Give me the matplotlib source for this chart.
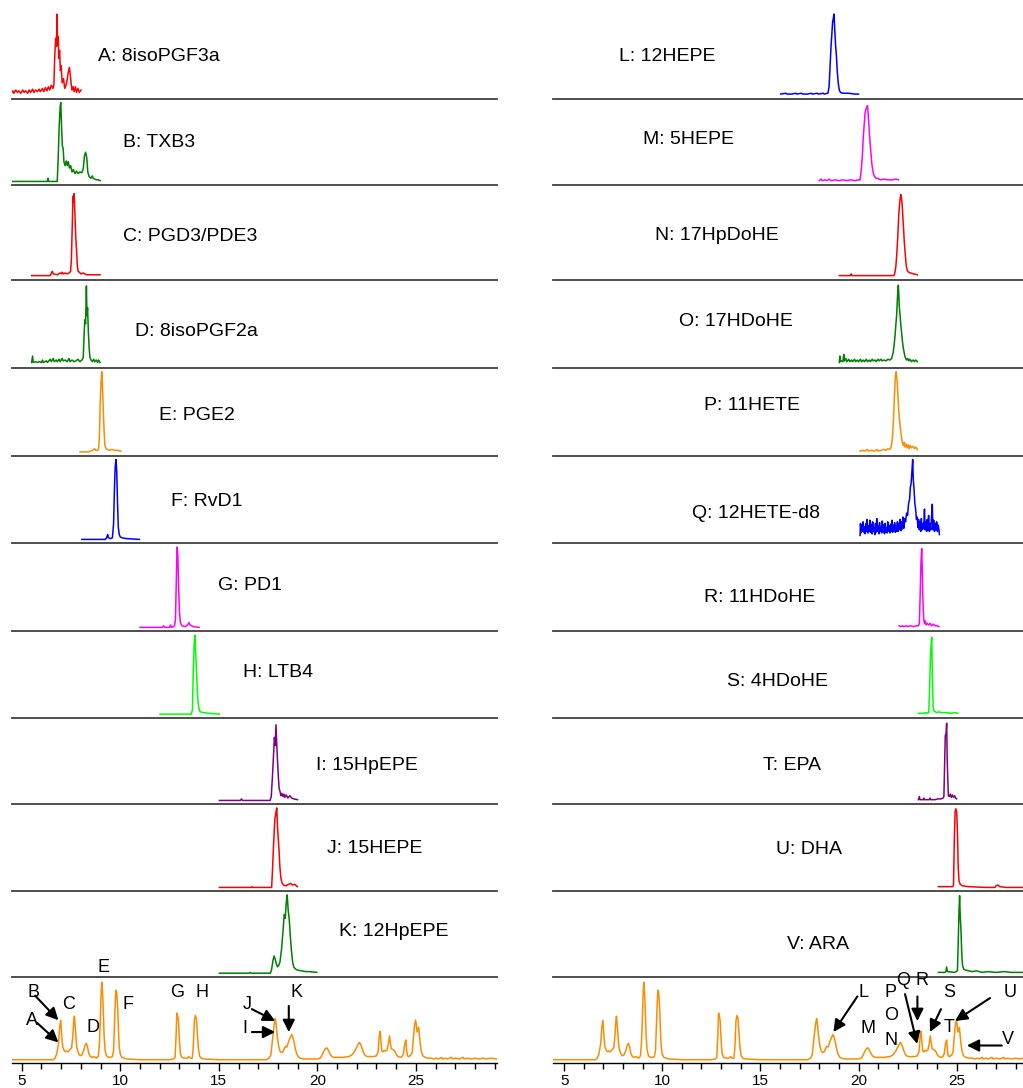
import matplotlib
matplotlib.use("Agg")
import matplotlib.pyplot as plt
import matplotlib.transforms as mtransforms
from matplotlib.ticker import MultipleLocator

plt.rcParams['font.family'] = ['Liberation Sans', 'DejaVu Sans']

# ---- traces: (retention time [min], relative intensity) ----
trace_A = [(4.46,0.02),(4.55,0.05),(4.6,0.02),(4.7,0.06),(4.78,0.03),(4.85,0.05),(4.95,0.02),(5.05,0.06),
           (5.12,0.03),(5.2,0.05),(5.3,0.02),(5.38,0.06),(5.45,0.03),(5.55,0.07),(5.62,0.03),(5.7,0.06),
           (5.8,0.04),(5.88,0.07),(5.95,0.04),(6.05,0.08),(6.12,0.04),(6.2,0.09),(6.28,0.05),(6.35,0.1),
           (6.42,0.06),(6.5,0.12),(6.58,0.08),(6.63,0.12),(6.67,0.45),(6.72,0.7),(6.76,0.6),(6.79,1.0),
           (6.82,0.62),(6.85,0.72),(6.88,0.45),(6.92,0.55),(6.96,0.3),(7.0,0.36),(7.05,0.15),(7.12,0.2),
           (7.18,0.08),(7.25,0.12),(7.3,0.18),(7.36,0.28),(7.42,0.34),(7.46,0.25),(7.5,0.15),(7.55,0.06),
           (7.6,0.1),(7.66,0.04),(7.72,0.1),(7.78,0.03),(7.85,0.08),(7.92,0.03),(8.01,0.06)]
trace_B = [(4.46,0.0),(6.3,0.0),(6.33,0.04),(6.36,0.0),(6.8,0.0),(6.85,0.3),(6.9,0.7),(6.95,0.95),
           (6.98,1.0),(7.02,0.7),(7.06,0.45),(7.1,0.42),(7.14,0.25),(7.2,0.2),(7.26,0.26),(7.31,0.2),
           (7.36,0.25),(7.42,0.17),(7.48,0.2),(7.55,0.12),(7.62,0.15),(7.7,0.1),(7.78,0.13),(7.86,0.1),
           (7.95,0.12),(8.05,0.11),(8.12,0.16),(8.18,0.32),(8.24,0.37),(8.3,0.3),(8.35,0.12),(8.42,0.06),
           (8.5,0.04),(8.58,0.07),(8.62,0.04),(8.7,0.03),(8.8,0.02),(8.9,0.02),(8.98,0.01)]
trace_C = [(5.5,0.0),(6.45,0.0),(6.5,0.03),(6.55,0.05),(6.6,0.02),(6.8,0.01),(6.95,0.03),(7.0,0.02),
           (7.05,0.04),(7.1,0.02),(7.2,0.03),(7.3,0.02),(7.4,0.03),(7.48,0.05),(7.52,0.2),(7.56,0.55),
           (7.6,0.92),(7.63,0.85),(7.66,0.95),(7.7,0.7),(7.74,0.45),(7.78,0.3),(7.82,0.12),(7.86,0.05),
           (7.92,0.04),(8.0,0.02),(8.1,0.03),(8.3,0.01),(8.6,0.01),(8.97,0.01)]
trace_D = [(5.5,0.02),(5.55,0.1),(5.58,0.02),(5.7,0.03),(5.8,0.02),(5.9,0.03),(6.0,0.02),(6.05,0.05),
           (6.1,0.02),(6.25,0.04),(6.3,0.02),(6.45,0.06),(6.5,0.03),(6.6,0.07),(6.65,0.03),(6.75,0.05),
           (6.8,0.03),(6.9,0.06),(6.95,0.03),(7.05,0.07),(7.1,0.04),(7.2,0.05),(7.3,0.03),(7.4,0.07),
           (7.45,0.03),(7.55,0.05),(7.65,0.03),(7.75,0.04),(7.85,0.06),(7.95,0.03),(8.05,0.05),(8.12,0.08),
           (8.16,0.35),(8.2,0.55),(8.24,0.5),(8.28,0.97),(8.31,0.6),(8.34,0.7),(8.38,0.4),(8.42,0.2),
           (8.46,0.08),(8.52,0.05),(8.58,0.03),(8.65,0.06),(8.7,0.03),(8.78,0.05),(8.85,0.02),(8.9,0.05),
           (8.97,0.02)]
trace_E = [(7.96,0.0),(8.4,0.0),(8.5,0.01),(8.6,0.02),(8.7,0.04),(8.75,0.02),(8.85,0.02),(8.9,0.04),
           (8.94,0.2),(8.98,0.6),(9.02,0.85),(9.06,1.0),(9.1,0.8),(9.14,0.5),(9.18,0.25),(9.22,0.08),
           (9.28,0.04),(9.35,0.03),(9.45,0.02),(9.55,0.03),(9.7,0.02),(9.85,0.02),(10.03,0.01)]
trace_F = [(8.05,0.0),(9.25,0.0),(9.32,0.03),(9.36,0.06),(9.4,0.02),(9.5,0.01),(9.6,0.02),(9.66,0.2),
           (9.7,0.6),(9.74,0.9),(9.78,1.0),(9.82,0.85),(9.86,0.45),(9.9,0.15),(9.95,0.06),(10.0,0.03),
           (10.1,0.02),(10.3,0.01),(10.97,0.0)]
trace_G = [(11.0,0.0),(12.15,0.0),(12.2,0.02),(12.25,0.0),(12.5,0.0),(12.55,0.03),(12.6,0.0),(12.75,0.02),
           (12.8,0.1),(12.84,0.55),(12.88,1.0),(12.92,0.9),(12.96,0.5),(13.0,0.2),(13.05,0.06),(13.12,0.02),
           (13.3,0.01),(13.42,0.03),(13.48,0.06),(13.54,0.03),(13.7,0.01),(14.0,0.0)]
trace_H = [(12.02,0.0),(13.6,0.0),(13.66,0.05),(13.7,0.5),(13.75,0.9),(13.79,1.0),(13.83,0.75),(13.88,0.45),
           (13.93,0.2),(13.98,0.08),(14.05,0.03),(14.2,0.02),(14.5,0.01),(15.03,0.0)]
trace_I = [(15.03,0.0),(16.1,0.0),(16.15,0.02),(16.2,0.0),(17.6,0.0),(17.66,0.05),(17.72,0.3),(17.78,0.6),
           (17.82,0.8),(17.86,0.7),(17.9,0.96),(17.94,0.7),(17.98,0.5),(18.02,0.3),(18.06,0.15),(18.1,0.12),
           (18.15,0.06),(18.2,0.09),(18.25,0.05),(18.3,0.08),(18.35,0.04),(18.42,0.07),(18.5,0.03),(18.6,0.06),
           (18.7,0.03),(18.8,0.02),(18.99,0.01)]
trace_J = [(15.03,0.0),(16.65,0.0),(16.68,0.01),(16.72,0.0),(17.68,0.0),(17.72,0.2),(17.78,0.55),(17.84,0.85),
           (17.9,0.95),(17.94,1.0),(17.98,0.75),(18.02,0.6),(18.06,0.45),(18.1,0.25),(18.15,0.12),(18.2,0.06),
           (18.28,0.03),(18.4,0.02),(18.55,0.04),(18.65,0.05),(18.75,0.03),(18.85,0.04),(18.99,0.01)]
trace_K = [(15.03,0.0),(16.55,0.0),(16.6,0.01),(16.65,0.0),(17.62,0.0),(17.68,0.05),(17.74,0.15),(17.8,0.22),
           (17.86,0.18),(17.92,0.12),(17.98,0.08),(18.04,0.1),(18.1,0.14),(18.18,0.3),(18.26,0.55),(18.32,0.75),
           (18.37,0.7),(18.42,0.9),(18.47,1.0),(18.52,0.8),(18.57,0.7),(18.62,0.5),(18.68,0.3),(18.74,0.15),
           (18.8,0.08),(18.9,0.05),(19.0,0.04),(19.2,0.03),(19.4,0.02),(19.6,0.02),(19.97,0.01)]

trace_L = [(16.04,0.01),(16.3,0.02),(16.35,0.01),(16.6,0.01),(16.8,0.02),(16.85,0.01),(17.1,0.02),(17.15,0.01),
           (17.4,0.01),(17.6,0.02),(17.65,0.01),(17.9,0.02),(17.95,0.01),(18.2,0.02),(18.25,0.01),(18.44,0.02),
           (18.5,0.1),(18.55,0.35),(18.6,0.6),(18.64,0.75),(18.68,0.9),(18.72,0.95),(18.75,1.0),(18.79,0.8),
           (18.83,0.62),(18.87,0.5),(18.92,0.28),(18.97,0.14),(19.02,0.06),(19.08,0.03),(19.2,0.02),(19.5,0.02),
           (19.8,0.01),(20.0,0.01)]
trace_M = [(18.0,0.01),(18.1,0.03),(18.15,0.01),(18.3,0.02),(18.4,0.01),(18.5,0.03),(18.6,0.01),(18.8,0.02),
           (19.0,0.01),(19.2,0.02),(19.4,0.01),(19.6,0.02),(19.8,0.01),(20.0,0.02),(20.08,0.02),(20.14,0.15),
           (20.19,0.3),(20.24,0.55),(20.29,0.72),(20.34,0.88),(20.4,0.93),(20.46,0.96),(20.52,0.75),(20.57,0.55),
           (20.62,0.4),(20.68,0.22),(20.74,0.12),(20.8,0.07),(20.88,0.04),(21.0,0.04),(21.1,0.02),(21.3,0.03),
           (21.5,0.02),(21.7,0.02),(21.9,0.03),(22.03,0.02)]
trace_N = [(19.02,0.0),(19.6,0.0),(19.63,0.02),(19.66,0.0),(21.8,0.0),(21.84,0.02),(21.9,0.1),(21.95,0.25),
           (22.0,0.45),(22.05,0.7),(22.1,0.85),(22.15,0.94),(22.19,0.9),(22.23,0.8),(22.28,0.6),(22.33,0.4),
           (22.38,0.25),(22.43,0.12),(22.48,0.06),(22.55,0.04),(22.65,0.03),(22.8,0.02),(23.0,0.01)]
trace_O = [(19.02,0.02),(19.05,0.1),(19.08,0.03),(19.15,0.04),(19.2,0.03),(19.25,0.12),(19.28,0.04),(19.35,0.07),
           (19.4,0.03),(19.5,0.06),(19.55,0.03),(19.65,0.05),(19.7,0.03),(19.8,0.06),(19.85,0.03),(19.95,0.05),
           (20.0,0.03),(20.1,0.06),(20.15,0.03),(20.25,0.05),(20.3,0.03),(20.4,0.06),(20.45,0.03),(20.55,0.05),
           (20.6,0.03),(20.7,0.06),(20.75,0.04),(20.85,0.05),(20.9,0.03),(21.0,0.06),(21.05,0.04),(21.15,0.06),
           (21.2,0.04),(21.3,0.05),(21.4,0.04),(21.5,0.06),(21.6,0.05),(21.69,0.07),(21.77,0.15),(21.82,0.25),
           (21.86,0.35),(21.9,0.48),(21.94,0.6),(21.99,0.85),(22.03,0.98),(22.08,0.7),(22.12,0.6),(22.15,0.5),
           (22.2,0.38),(22.23,0.3),(22.28,0.2),(22.32,0.15),(22.36,0.1),(22.4,0.07),(22.46,0.05),(22.5,0.07),
           (22.56,0.04),(22.62,0.06),(22.7,0.03),(22.78,0.05),(22.85,0.03),(22.92,0.05),(23.0,0.03)]
trace_P = [(20.08,0.01),(20.2,0.02),(20.3,0.01),(20.45,0.03),(20.5,0.01),(20.65,0.02),(20.8,0.01),(20.95,0.03),
           (21.0,0.01),(21.15,0.02),(21.3,0.03),(21.4,0.02),(21.5,0.04),(21.6,0.03),(21.66,0.06),(21.72,0.15),
           (21.78,0.4),(21.83,0.7),(21.88,0.95),(21.92,1.0),(21.96,0.9),(22.0,0.75),(22.04,0.55),(22.08,0.42),
           (22.13,0.3),(22.18,0.2),(22.23,0.12),(22.28,0.08),(22.32,0.12),(22.37,0.06),(22.42,0.1),(22.47,0.05),
           (22.53,0.09),(22.58,0.04),(22.64,0.08),(22.7,0.05),(22.78,0.07),(22.85,0.04),(22.92,0.06),(23.0,0.03)]
trace_Q = [(20.08,0.05),(20.1,0.2),(20.13,0.08),(20.16,0.18),(20.2,0.1),(20.23,0.22),(20.27,0.09),(20.3,0.16),
           (20.34,0.07),(20.37,0.2),(20.41,0.1),(20.44,0.25),(20.48,0.08),(20.51,0.17),(20.55,0.1),(20.58,0.24),
           (20.62,0.09),(20.65,0.19),(20.69,0.07),(20.72,0.22),(20.76,0.1),(20.79,0.15),(20.83,0.06),(20.86,0.2),
           (20.9,0.09),(20.93,0.26),(20.97,0.1),(21.0,0.17),(21.04,0.07),(21.07,0.21),(21.11,0.1),(21.14,0.16),
           (21.18,0.08),(21.21,0.23),(21.25,0.1),(21.28,0.18),(21.32,0.07),(21.35,0.2),(21.39,0.09),(21.42,0.15),
           (21.46,0.08),(21.49,0.22),(21.53,0.1),(21.56,0.17),(21.6,0.08),(21.63,0.19),(21.67,0.1),(21.7,0.24),
           (21.74,0.09),(21.77,0.18),(21.81,0.1),(21.84,0.21),(21.88,0.09),(21.91,0.17),(21.95,0.1),(21.98,0.22),
           (22.02,0.1),(22.05,0.2),(22.09,0.12),(22.12,0.25),(22.16,0.11),(22.19,0.22),(22.23,0.13),(22.27,0.28),
           (22.31,0.14),(22.35,0.26),(22.4,0.22),(22.45,0.33),(22.5,0.3),(22.55,0.45),(22.6,0.5),(22.64,0.65),
           (22.68,0.7),(22.72,0.85),(22.76,1.0),(22.79,0.75),(22.83,0.62),(22.87,0.45),(22.91,0.38),(22.95,0.25),
           (22.99,0.28),(23.03,0.15),(23.06,0.25),(23.1,0.12),(23.13,0.22),(23.17,0.1),(23.2,0.26),(23.24,0.12),
           (23.28,0.2),(23.32,0.13),(23.36,0.38),(23.39,0.12),(23.43,0.22),(23.47,0.1),(23.5,0.25),(23.54,0.12),
           (23.57,0.3),(23.61,0.1),(23.64,0.2),(23.68,0.12),(23.72,0.28),(23.76,0.44),(23.79,0.12),(23.83,0.24),
           (23.87,0.1),(23.9,0.2),(23.94,0.12),(23.98,0.22),(24.02,0.1),(24.06,0.18),(24.1,0.12),(24.12,0.06)]
trace_R = [(22.07,0.02),(22.15,0.01),(22.25,0.02),(22.3,0.01),(22.45,0.02),(22.5,0.01),(22.65,0.02),(22.8,0.01),
           (22.95,0.02),(23.05,0.02),(23.1,0.05),(23.14,0.4),(23.18,0.8),(23.22,0.98),(23.25,0.7),(23.28,0.35),
           (23.32,0.1),(23.36,0.05),(23.4,0.08),(23.44,0.03),(23.5,0.05),(23.58,0.03),(23.65,0.05),(23.72,0.02),
           (23.8,0.04),(23.9,0.02),(24.0,0.02),(24.1,0.01)]
trace_S = [(23.05,0.01),(23.3,0.01),(23.45,0.02),(23.48,0.01),(23.58,0.02),(23.62,0.3),(23.66,0.7),(23.69,0.85),
           (23.73,0.97),(23.76,0.5),(23.8,0.1),(23.84,0.04),(23.9,0.03),(24.0,0.02),(24.1,0.03),(24.2,0.02),
           (24.35,0.02),(24.5,0.02),(24.7,0.01),(24.9,0.02),(25.06,0.01)]
trace_T = [(23.05,0.01),(23.1,0.05),(23.13,0.01),(23.3,0.01),(23.33,0.03),(23.36,0.01),(23.6,0.01),(23.65,0.03),
           (23.68,0.01),(23.9,0.01),(24.05,0.02),(24.2,0.02),(24.3,0.03),(24.35,0.05),(24.39,0.5),(24.42,0.82),
           (24.46,0.85),(24.49,0.98),(24.52,0.5),(24.55,0.25),(24.58,0.06),(24.63,0.05),(24.68,0.08),(24.73,0.04),
           (24.78,0.07),(24.84,0.04),(24.9,0.06),(24.95,0.03),(25.0,0.02)]
trace_U = [(24.07,0.01),(24.5,0.01),(24.8,0.01),(24.84,0.03),(24.88,0.6),(24.92,0.95),(24.96,0.99),(25.0,0.95),
           (25.04,0.7),(25.08,0.25),(25.12,0.08),(25.18,0.04),(25.3,0.02),(25.6,0.01),(26.5,0.0),(26.95,0.0),
           (27.0,0.02),(27.1,0.03),(27.2,0.01),(27.5,0.0),(28.5,0.0)]
trace_V = [(24.07,0.01),(24.4,0.01),(24.45,0.02),(24.49,0.08),(24.53,0.02),(24.9,0.01),(25.04,0.03),(25.08,0.4),
           (25.12,0.8),(25.15,0.99),(25.18,0.75),(25.22,0.55),(25.26,0.25),(25.3,0.1),(25.36,0.05),(25.45,0.04),
           (25.6,0.03),(25.8,0.02),(26.0,0.03),(26.3,0.01),(26.6,0.02),(27.0,0.01),(27.4,0.02),(27.8,0.01),
           (28.5,0.01)]

# total chromatogram (same in both columns)
tic = [(4.45,0.0),(6.6,0.0),(6.69,0.02),(6.78,0.08),(6.86,0.2),(6.92,0.4),(6.98,0.5),(7.03,0.3),(7.08,0.16),
       (7.15,0.12),(7.22,0.1),(7.28,0.11),(7.35,0.1),(7.45,0.13),(7.53,0.15),(7.59,0.3),(7.64,0.5),(7.67,0.55),
       (7.72,0.4),(7.79,0.16),(7.88,0.08),(7.96,0.05),(8.05,0.06),(8.15,0.12),(8.21,0.18),(8.28,0.21),(8.34,0.16),
       (8.4,0.08),(8.48,0.04),(8.55,0.03),(8.65,0.04),(8.72,0.03),(8.8,0.02),(8.89,0.05),(8.94,0.2),(8.98,0.45),
       (9.02,0.8),(9.06,0.98),(9.1,0.85),(9.14,0.6),(9.18,0.3),(9.23,0.12),(9.3,0.05),(9.4,0.03),(9.5,0.03),
       (9.6,0.04),(9.66,0.12),(9.7,0.4),(9.74,0.7),(9.78,0.88),(9.82,0.85),(9.87,0.65),(9.91,0.35),(9.95,0.16),
       (10.0,0.07),(10.08,0.03),(10.2,0.02),(10.33,0.01),(11.0,0.0),(12.5,0.0),(12.7,0.01),(12.78,0.03),
       (12.83,0.3),(12.87,0.59),(12.91,0.55),(12.95,0.5),(13.0,0.25),(13.05,0.08),(13.12,0.03),(13.25,0.02),
       (13.4,0.02),(13.48,0.04),(13.55,0.02),(13.65,0.02),(13.7,0.15),(13.76,0.5),(13.81,0.56),(13.86,0.52),
       (13.91,0.33),(13.96,0.15),(14.02,0.05),(14.1,0.02),(14.22,0.01),(15.0,0.0),(17.4,0.0),(17.55,0.02),
       (17.64,0.06),(17.7,0.2),(17.77,0.36),(17.83,0.48),(17.87,0.52),(17.92,0.42),(17.97,0.29),(18.03,0.18),
       (18.1,0.11),(18.18,0.09),(18.25,0.1),(18.32,0.14),(18.38,0.17),(18.45,0.16),(18.53,0.22),(18.6,0.27),
       (18.66,0.3),(18.7,0.32),(18.76,0.28),(18.82,0.22),(18.88,0.14),(18.96,0.07),(19.05,0.03),(19.13,0.02),
       (19.3,0.01),(20.0,0.01),(20.14,0.02),(20.22,0.05),(20.31,0.1),(20.4,0.14),(20.48,0.15),(20.56,0.12),
       (20.65,0.07),(20.75,0.04),(20.85,0.03),(21.0,0.03),(21.3,0.03),(21.6,0.04),(21.75,0.06),(21.9,0.11),
       (21.98,0.15),(22.06,0.19),(22.14,0.22),(22.22,0.18),(22.3,0.12),(22.38,0.07),(22.45,0.05),(22.55,0.04),
       (22.7,0.04),(22.85,0.04),(23.0,0.05),(23.08,0.1),(23.14,0.3),(23.19,0.36),(23.23,0.22),(23.27,0.11),
       (23.33,0.1),(23.4,0.12),(23.46,0.11),(23.53,0.12),(23.6,0.2),(23.66,0.3),(23.7,0.22),(23.75,0.14),
       (23.82,0.13),(23.88,0.12),(23.95,0.1),(24.02,0.06),(24.1,0.04),(24.2,0.03),(24.3,0.04),(24.37,0.08),
       (24.43,0.2),(24.49,0.25),(24.53,0.12),(24.57,0.05),(24.65,0.04),(24.75,0.06),(24.82,0.1),(24.88,0.3),
       (24.94,0.45),(24.98,0.5),(25.02,0.45),(25.06,0.35),(25.1,0.38),(25.14,0.41),(25.18,0.3),(25.23,0.18),
       (25.28,0.1),(25.35,0.05),(25.47,0.03),(25.6,0.02),(25.8,0.02),(25.9,0.01),(26.05,0.02),(26.15,0.01),
       (26.3,0.03),(26.35,0.01),(26.5,0.02),(26.6,0.01),(26.8,0.03),(26.85,0.01),(27.0,0.02),(27.2,0.01),
       (27.4,0.03),(27.45,0.01),(27.6,0.02),(27.8,0.01),(28.0,0.02),(28.2,0.01),(28.4,0.02),(28.6,0.01),
       (28.8,0.02),(29.1,0.01)]

left_traces = [trace_A, trace_B, trace_C, trace_D, trace_E, trace_F, trace_G, trace_H, trace_I, trace_J, trace_K]
right_traces = [trace_L, trace_M, trace_N, trace_O, trace_P, trace_Q, trace_R, trace_S, trace_T, trace_U, trace_V]

left_names = ["A: 8isoPGF3a", "B: TXB3", "C: PGD3/PDE3", "D: 8isoPGF2a", "E: PGE2", "F: RvD1",
              "G: PD1", "H: LTB4", "I: 15HpEPE", "J: 15HEPE", "K: 12HpEPE"]
right_names = ["L: 12HEPE", "M: 5HEPE", "N: 17HpDoHE", "O: 17HDoHE", "P: 11HETE", "Q: 12HETE-d8",
               "R: 11HDoHE", "S: 4HDoHE", "T: EPA", "U: DHA", "V: ARA"]

left_colors = ['#ff0000', '#008000', '#ff0000', '#008000', '#ff8c00', '#0000ff', '#ff00ff', '#00ff00',
               '#800080', '#ff0000', '#008000']
right_colors = ['#0000ff', '#ff00ff', '#ff0000', '#008000', '#ff8c00', '#0000ff', '#ff00ff', '#00ff00',
                '#800080', '#ff0000', '#008000']

# label placement (x in minutes, y as fraction of panel height)
left_lab_x = [8.89, 10.13, 10.13, 10.75, 11.98, 12.56, 14.98, 16.25, 19.94, 20.48, 21.12]
left_lab_y = [0.47, 0.49, 0.45, 0.41, 0.45, 0.48, 0.52, 0.52, 0.45, 0.49, 0.53]
right_lab_x = [7.8, 9.04, 9.64, 10.87, 12.13, 11.5, 12.13, 13.32, 15.15, 15.78, 16.38]
right_lab_y = [0.48, 0.53, 0.47, 0.52, 0.57, 0.34, 0.38, 0.42, 0.45, 0.48, 0.38]

# peak letters on the total chromatograms: (letter, x, y) and arrows (tail, tip)
left_letters = [("A", 5.51, 0.50), ("B", 5.59, 0.85), ("C", 7.37, 0.70), ("D", 8.63, 0.41), ("E", 9.14, 1.17),
                ("F", 10.41, 0.70), ("G", 12.87, 0.85), ("H", 14.14, 0.85), ("I", 16.34, 0.39),
                ("J", 16.42, 0.70), ("K", 18.96, 0.85)]
left_arrows = [((5.76, 0.47), (6.86, 0.22)), ((5.68, 0.81), (6.86, 0.50)), ((16.68, 0.35), (17.86, 0.35)),
               ((16.68, 0.64), (17.86, 0.49)), ((18.55, 0.68), (18.55, 0.35))]
right_letters = [("L", 20.25, 0.85), ("M", 20.46, 0.39), ("P", 21.61, 0.85), ("O", 21.66, 0.56),
                 ("N", 21.66, 0.24), ("Q", 22.25, 1.0), ("R", 23.25, 1.0), ("S", 24.61, 0.85),
                 ("T", 24.61, 0.41), ("U", 27.72, 0.85), ("V", 27.6, 0.26)]
right_arrows = [((19.94, 0.80), (18.72, 0.35)), ((22.37, 0.83), (22.99, 0.20)), ((23.0, 0.80), (23.0, 0.49)),
                ((24.2, 0.64), (23.64, 0.35)), ((26.7, 0.78), (24.92, 0.49)), ((27.3, 0.18), (25.52, 0.18))]

W, H = 1023, 1088
row_edges = [10, 98.5, 185, 279.5, 367.7, 455.5, 543, 631, 717.7, 804, 891, 976.7, 1063.3]
cols = [dict(x0=11.7, x1=496.7, xlim=(4.49, 29.1), traces=left_traces, names=left_names,
             colors=left_colors, lx=left_lab_x, ly=left_lab_y, letters=left_letters, arrows=left_arrows),
        dict(x0=553.3, x1=1023, xlim=(4.45, 28.38), traces=right_traces, names=right_names,
             colors=right_colors, lx=right_lab_x, ly=right_lab_y, letters=right_letters, arrows=right_arrows)]
YLIM = (-0.045, 1.05)

fig = plt.figure(figsize=(W / 100, H / 100), dpi=100)

for col in cols:
    for i in range(12):
        yt, yb = row_edges[i], row_edges[i + 1]
        ax = fig.add_axes([col['x0'] / W, 1 - yb / H, (col['x1'] - col['x0']) / W, (yb - yt) / H])
        ax.set_xlim(*col['xlim'])
        ax.set_ylim(*YLIM)
        for s in ['top', 'left', 'right']:
            ax.spines[s].set_visible(False)
        ax.set_yticks([])
        ax.patch.set_alpha(0)
        if i < 11:
            tr = col['traces'][i]
            ax.plot([p[0] for p in tr], [p[1] for p in tr], color=col['colors'][i], lw=1.1)
            ax.spines['bottom'].set_color('#404040')
            ax.spines['bottom'].set_linewidth(1.3)
            ax.set_xticks([])
            trans = mtransforms.blended_transform_factory(ax.transData, ax.transAxes)
            ax.text(col['lx'][i], col['ly'][i], col['names'][i], transform=trans,
                    fontsize=14, ha='left', va='center')
        else:
            ax.plot([p[0] for p in tic], [p[1] for p in tic], color='#ff8c00', lw=1.1)
            ax.spines['bottom'].set_color('black')
            ax.spines['bottom'].set_linewidth(1.0)
            ax.set_xticks([5, 10, 15, 20, 25])
            ax.xaxis.set_minor_locator(MultipleLocator(1))
            ax.tick_params(axis='x', which='major', direction='out', length=6, width=1, labelsize=11, pad=2)
            ax.tick_params(axis='x', which='minor', direction='out', length=4, width=1)
            for letter, x, y in col['letters']:
                ax.text(x, y, letter, fontsize=13, ha='center', va='center', clip_on=False)
            for tail, tip in col['arrows']:
                ax.annotate('', xy=tip, xytext=tail, annotation_clip=False,
                            arrowprops=dict(arrowstyle='-|>', color='black', lw=1.5,
                                            mutation_scale=18, shrinkA=0, shrinkB=0))

fig.savefig('out.png', dpi=100)
